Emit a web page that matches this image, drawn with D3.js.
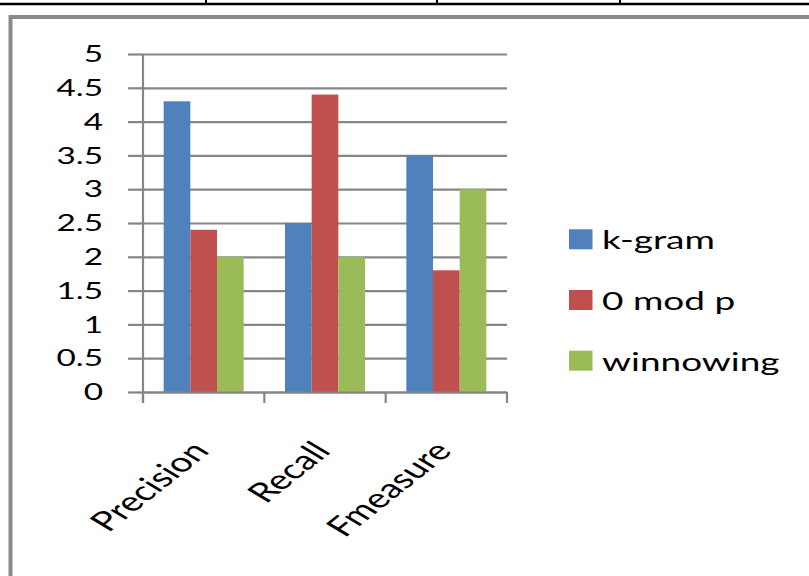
<!DOCTYPE html>
<html>
<head>
<meta charset="utf-8">
<script src="https://cdn.jsdelivr.net/npm/d3@7"></script>
<style>
  html, body { margin: 0; padding: 0; background: #fff; }
  svg { display: block; }
  text { font-family: Lato, "Open Sans", sans-serif; fill: #000; }
</style>
</head>
<body>
<svg id="chart" width="809" height="576"></svg>
<script>
// Data
const categories = ["Precision", "Recall", "Fmeasure"];
const seriesNames = ["k-gram", "0 mod p", "winnowing"];
const kgram = [4.3, 2.5, 3.5];
const zeroModP = [2.4, 4.4, 1.8];
const winnowing = [2.0, 2.0, 3.0];
const seriesValues = [kgram, zeroModP, winnowing];
const yTicks = [0, 0.5, 1, 1.5, 2, 2.5, 3, 3.5, 4, 4.5, 5];
const colors = ["#4F81BD", "#C0504D", "#9BBB59"];

const svg = d3.select("#chart");
const SX = 1.45;            // horizontal stretch applied to the lettering
const gridColor = "#868686";

// Page decoration: the table rule at the top and the figure frame
svg.append("line").attr("x1", 0).attr("x2", 809).attr("y1", 4).attr("y2", 4)
  .attr("stroke", "#000").attr("stroke-width", 2.5);
[206, 437, 620].forEach(x => {
  svg.append("line").attr("x1", x).attr("x2", x).attr("y1", 0).attr("y2", 4)
    .attr("stroke", "#000").attr("stroke-width", 2);
});
svg.append("rect").attr("x", 10.5).attr("y", 17).attr("width", 900).attr("height", 700)
  .attr("fill", "none").attr("stroke", "#8a8a8a").attr("stroke-width", 4);

// Scales
const x0 = d3.scaleBand().domain(categories).range([143, 507]).paddingInner(0).paddingOuter(0);
const x1 = d3.scaleBand().domain(seriesNames).range([0, x0.bandwidth()])
  .paddingInner(0).paddingOuter(0.775);
const y = d3.scaleLinear().domain([0, 5]).range([392, 54]);

// Gridlines with the left tick marks
const yAxis = d3.axisLeft(y).tickValues(yTicks).tickSize(15).tickFormat("");
const gy = svg.append("g").attr("transform", "translate(143,0)").call(yAxis);
gy.select(".domain").remove();
gy.selectAll(".tick line").attr("stroke", gridColor).attr("stroke-width", 2.2);
gy.selectAll(".tick").append("line")
  .attr("x1", 0).attr("x2", 364).attr("stroke", gridColor).attr("stroke-width", 2.2);

// Y tick labels
svg.append("g").selectAll("g").data(yTicks).join("g")
  .attr("transform", d => `translate(103,${y(d)}) scale(${SX},1)`)
  .append("text")
  .attr("text-anchor", "end").attr("dy", "0.36em")
  .attr("font-size", 23)
  .text(d => d3.format("")(d));

// Bars
const groups = svg.append("g").selectAll("g").data(categories).join("g")
  .attr("transform", d => `translate(${x0(d)},0)`);
groups.selectAll("rect")
  .data((c, i) => seriesNames.map((s, j) => ({ s, v: seriesValues[j][i], j })))
  .join("rect")
  .attr("x", d => x1(d.s))
  .attr("width", x1.bandwidth())
  .attr("y", d => y(d.v))
  .attr("height", d => y(0) - y(d.v))
  .attr("fill", d => colors[d.j]);

// Axes lines
svg.append("line").attr("x1", 143).attr("x2", 143).attr("y1", y(5)).attr("y2", 403)
  .attr("stroke", gridColor).attr("stroke-width", 2.2);
const xAxis = d3.axisBottom(x0).tickSize(0).tickFormat("");
const gx = svg.append("g").attr("transform", `translate(0,${y(0)})`).call(xAxis);
gx.select(".domain").attr("stroke", gridColor).attr("stroke-width", 2.2);
const edges = categories.map(c => x0(c)).concat([x0.range()[1]]);
gx.selectAll(".edge").data(edges).join("line").attr("class", "edge")
  .attr("x1", d => d).attr("x2", d => d).attr("y1", 0).attr("y2", 11)
  .attr("stroke", gridColor).attr("stroke-width", 2.2);

// Category labels, rotated
svg.append("g").selectAll("g").data(categories).join("g")
  .attr("transform", d => `translate(${x0(d) + x0.bandwidth() / 2 + 7},${y(0) + 60}) scale(${SX},1) rotate(-49)`)
  .append("text")
  .attr("text-anchor", "end")
  .attr("font-size", 27)
  .text(d => d);

// Legend
const legend = svg.append("g").attr("transform", "translate(569,239.3)");
const items = legend.selectAll("g").data(seriesNames).join("g")
  .attr("transform", (d, i) => `translate(0,${i * 60.7})`);
items.append("rect").attr("x", 0).attr("y", -10).attr("width", 23.5).attr("height", 20)
  .attr("fill", (d, i) => colors[i]);
items.append("g").attr("transform", `translate(33,10) scale(${SX},1)`)
  .append("text").attr("font-size", 25.5).text(d => d);
</script>
</body>
</html>
